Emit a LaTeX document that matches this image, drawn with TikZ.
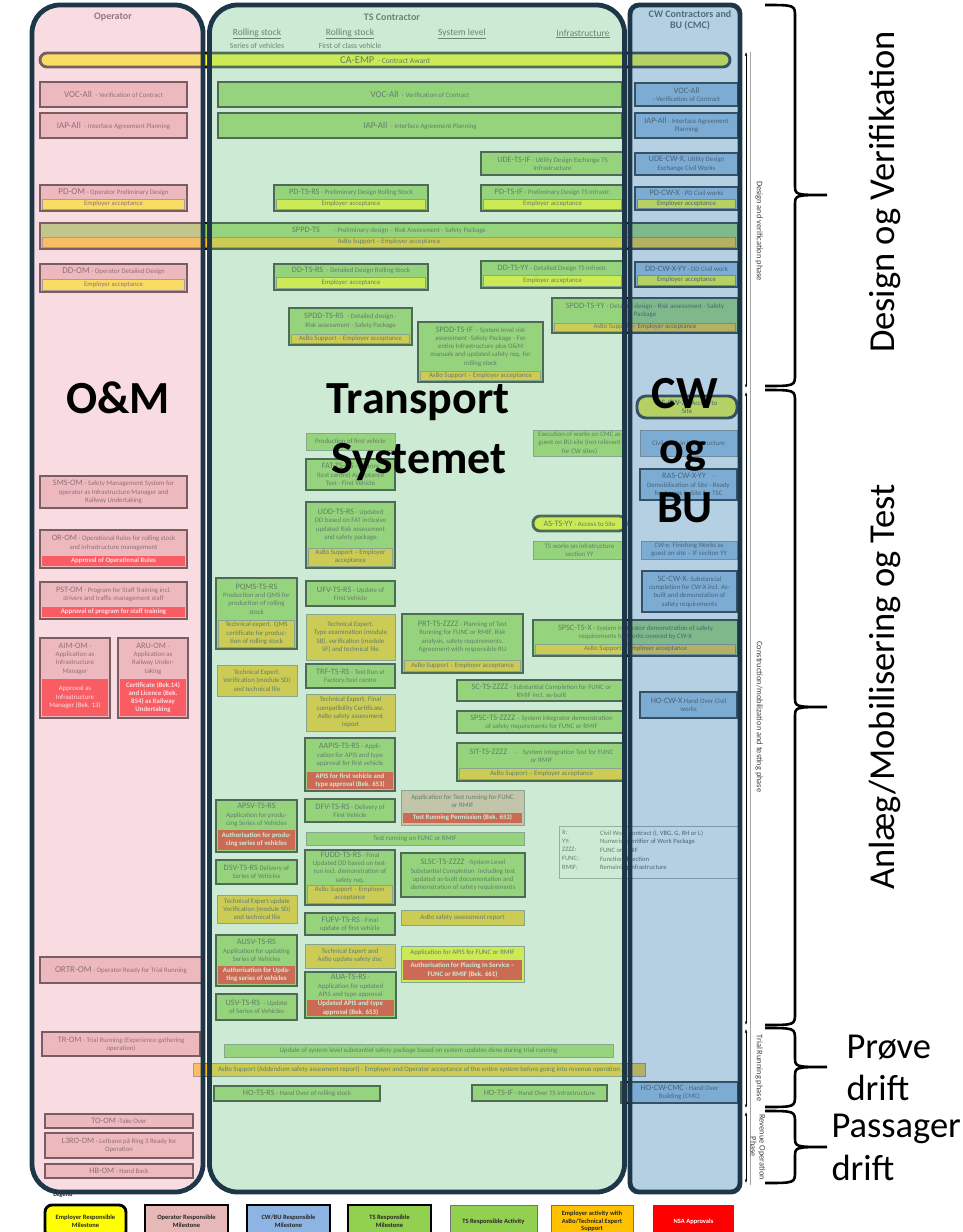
\documentclass[tikz,border=0pt]{standalone}
\usepackage{fontspec}
\setmainfont{Carlito}
\usetikzlibrary{arrows.meta}
\definecolor{empY}{HTML}{FFFF00}
\definecolor{opM}{HTML}{E6B8B7}
\definecolor{cwB}{HTML}{8DB4E2}
\definecolor{tsG}{HTML}{92D050}
\definecolor{empO}{HTML}{FFC000}
\definecolor{nsaR}{HTML}{FF0000}
\definecolor{tanC}{HTML}{EBB4AA}
\definecolor{ovP}{HTML}{F5BBC7}
\definecolor{ovG}{HTML}{9BD7AB}
\definecolor{ovB}{HTML}{6DA3C7}
\definecolor{laneB}{HTML}{1E3748}
\pgfdeclarelayer{bg}\pgfdeclarelayer{ov}\pgfdeclarelayer{top}
\pgfsetlayers{bg,main,ov,top}
\newcommand\fsm{\fontsize{6.8}{8.3}\selectfont}
\newcommand\idA[1]{{\fontsize{9}{9}\selectfont #1}}
\newcommand\idB[1]{{\fontsize{8.3}{8.3}\selectfont #1}}
\newcommand\mybox[8][]{%
  \pgfmathsetmacro\bxw{#6-#4}%
  \pgfmathsetmacro\bxh{#7-#5}%
  \pgfmathsetmacro\bxcx{(#4+#6)/2}%
  \pgfmathsetmacro\bxcy{(#5+#7)/2}%
  \node[#2, minimum width=\bxw pt, minimum height=\bxh pt, #1] (#3) at (\bxcx,\bxcy) {#8};%
}
\newcommand\msbar[9]{%
  \mybox{#1}{#2}{#3}{#4}{#5}{#6}{}%
  \pgfmathsetmacro\mbxa{#3+2.4}\pgfmathsetmacro\mbxb{#5-2.4}\pgfmathsetmacro\mbyb{#6-2}%
  \mybox{#8}{#2b}{\mbxa}{#7}{\mbxb}{\mbyb}{#9}%
  \def\msbarA{#3}\def\msbarB{#4}\def\msbarC{#5}\def\msbarD{#7}\edef\msbarN{#2t}%
  \msbarcont}
\newcommand\msbarcont[1]{\mybox{txt}{\msbarN}{\msbarA}{\msbarB}{\msbarC}{\msbarD}{#1}}
\newcommand\mybrace[3]{%
  \draw[brc] (765,#1) .. controls (795,#1) .. (795,{#1+12}) -- (795,{#2-10}) .. controls (795,#2) .. (827,#2) .. controls (795,#2) .. (795,{#2+10}) -- (795,{#3-12}) .. controls (795,#3) .. (765,#3);}
\tikzset{
  bxbase/.style={rectangle, inner sep=0.5pt, align=center, font=\fsm, text=black!85},
  msO/.style={bxbase, fill=opM, draw=black, line width=2.9pt},
  msT/.style={bxbase, fill=tsG, draw=black, line width=2.9pt},
  msC/.style={bxbase, fill=cwB, draw=black, line width=2.9pt},
  msE/.style={bxbase, fill=empY, draw=black, line width=2.9pt, rounded corners=7pt},
  actT/.style={bxbase, fill=tsG, draw=black!55, line width=0.6pt},
  actC/.style={bxbase, fill=cwB, draw=black!55, line width=0.6pt},
  actE/.style={bxbase, fill=empO, draw=black!55, line width=0.6pt},
  accY/.style={bxbase, fill=empY, draw=black!55, line width=0.6pt},
  nsa/.style={bxbase, fill=nsaR, text=white, font=\fsm\bfseries},
  nsar/.style={bxbase, fill=nsaR, text=white},
  tanb/.style={bxbase, fill=tanC, draw=black!55, line width=0.6pt},
  txt/.style={bxbase},
  conn/.style={draw=black!65, line width=0.75pt},
  phl/.style={draw=black!45, line width=0.7pt},
  brc/.style={draw=black, line width=2.6pt},
  lane/.style={draw=laneB, line width=4.8pt},
  big/.style={font=\fontsize{46}{46}\selectfont\bfseries, text=black, anchor=base},
  side/.style={font=\fontsize{36.5}{36.5}\selectfont, text=black},
  phtxt/.style={font=\fontsize{8.4}{9}\selectfont, text=black!75, align=center},
  hdr/.style={font=\fontsize{10}{11.5}\selectfont\bfseries, text=black!80, align=center},
  hdu/.style={font=\fontsize{9.5}{10}\selectfont, text=black!80},
  hds/.style={font=\fontsize{7.8}{8}\selectfont, text=black!80},
}
\begin{document}
\begin{tikzpicture}[x=1pt,y=-1pt]
\useasboundingbox (0,0) rectangle (963,1232);
\fill[white] (0,0) rectangle (963,1232);
% ---------- coordinates for connectors
\coordinate (xOM) at (113,0);
\coordinate (xOM2) at (121,0);
\coordinate (xCA) at (386,0);
\coordinate (xRS) at (257,0);
\coordinate (xFV) at (350,0);
\coordinate (xTS) at (420,0);
\coordinate (xSY) at (462,0);
\coordinate (xIFd) at (482,0);
\coordinate (xSC) at (542,0);
\coordinate (xIF) at (552,0);
\coordinate (xE) at (580,0);
\coordinate (xR) at (600,0);
\coordinate (xYY) at (606,0);
\coordinate (xCW) at (688,0);
\coordinate (xAR) at (168,0);
\coordinate (xAP) at (411,0);
\coordinate (xPA) at (440,0);
\coordinate (xSI) at (443,0);
\coordinate (xA2) at (330,0);
\coordinate (xA3) at (278,0);
\coordinate (xO1) at (240,0);
\coordinate (xO2) at (270,0);
\coordinate (xO3) at (295,0);
\coordinate (xU) at (325,0);
\coordinate (xHR) at (297,0);
\coordinate (xHI) at (540,0);
\coordinate (xTO) at (178,0);
\coordinate (yA) at (0,74);
\coordinate (yU) at (0,145);
\coordinate (yO1t) at (0,404);
\coordinate (yO2t) at (0,428);
\coordinate (yI) at (0,525);
\coordinate (yP) at (0,537);
\coordinate (yO1) at (0,538);
\coordinate (yO2) at (0,541);
\coordinate (yO3) at (0,549);
\coordinate (yO3b) at (0,575);
\coordinate (yS1) at (0,627);
\coordinate (yC) at (0,670);
\coordinate (yAR) at (0,735);
\coordinate (yQ) at (0,786);
\coordinate (yAP) at (0,795);
\coordinate (yS2) at (0,835);
\coordinate (yB) at (0,1025);
\coordinate (yT) at (0,1107);

% ---------- headers
\node[hdr] (hop) at (113,17) {Operator};
\node[hdr] (hts) at (392,17) {TS Contractor};
\node[hdu] (hrs1) at (257,34) {\underline{Rolling stock}};
\node[hds] (hrs1b) at (257,46) {Series of vehicles};
\node[hdu] (hrs2) at (350,34) {\underline{Rolling stock}};
\node[hds] (hrs2b) at (350,46) {First of class vehicle};
\node[hdu] (hsys) at (462,34) {\underline{System level}};
\node[hdu] (hinf) at (583,34) {\underline{Infrastructure}};
\node[hdr] (hcw) at (690,20) {CW Contractors and\\BU (CMC)};

% ---------- design phase
\mybox{msE}{caemp}{40}{53}{730}{67}{{\fontsize{10.5}{10.5}\selectfont CA-EMP}\enspace{\fontsize{7.6}{8}\selectfont - Contract Award}}
\mybox{msO}{vocom}{40}{82}{187}{107}{\idA{VOC-All}\enspace - Verification of Contract}
\mybox{msT}{vocts}{218}{82}{622}{107}{\idA{VOC-All}\enspace - Verification of Contract}
\mybox{msC}{voccw}{635}{83}{738}{106}{\idB{VOC-All}\\- Verification of Contract}
\mybox{msO}{iapom}{40}{113}{187}{138}{\idA{IAP-All}\enspace - Interface Agreement Planning}
\mybox{msT}{iapts}{218}{113}{622}{138}{\idA{IAP-All}\enspace - Interface Agreement Planning}
\mybox{msC}{iapcw}{635}{113}{738}{138}{\idB{IAP-All} - Interface Agreement\\Planning}
\mybox{msT}{udets}{481}{152}{624}{175}{\idB{UDE-TS-IF} - Utility Design Exchange TS\\Infrastructure}
\mybox{msC}{udecw}{635}{153}{738}{175}{\idB{UDE-CW-X,} Utility Design\\Exchange Civil Works}
\msbar{msO}{pdom}{40}{185}{187}{211}{199}{accY}{Employer acceptance}{\idA{PD-OM} - Operator Preliminary Design}
\msbar{msT}{pdrs}{274}{185}{428}{211}{199}{accY}{Employer acceptance}{\idB{PD-TS-RS} - Preliminary Design Rolling Stock}
\msbar{msT}{pdif}{481}{185}{624}{211}{199}{accY}{Employer acceptance}{\idB{PD-TS-IF} - Preliminary Design TS Infrastr.}
\msbar{msC}{pdcw}{635}{187}{738}{210}{199}{accY}{Employer acceptance}{\idB{PD-CW-X} - PD Civil works}
\msbar{msT}{sppd}{40}{223}{738}{249}{237}{actE}{AsBo Support – Employer acceptance}{\idB{SPPD-TS}\qquad - Preliminary design – Risk Assessment - Safety Package}
\msbar{msO}{ddom}{40}{264}{187}{292}{279}{accY}{Employer acceptance}{\idA{DD-OM} - Operator Detailed Design}
\msbar{msT}{ddrs}{274}{264}{428}{290}{277}{accY}{Employer acceptance}{\idB{DD-TS-RS}\enspace - Detailed Design Rolling Stock}
\msbar{msT}{ddyy}{481}{261}{624}{288}{275}{accY}{Employer acceptance}{\idB{DD-TS-YY} - Detailed Design TS Infrastr.}
\msbar{msC}{ddcw}{635}{262}{738}{287}{275}{accY}{Employer acceptance}{\idB{DD-CW-X-YY} - DD Civil work}
\msbar{msT}{spddyy}{552}{298}{738}{333}{323}{actE}{AsBo Support – Employer acceptance}{\idB{SPDD-TS-YY} - Detailed design - Risk assessment - Safety\\Package}
\msbar{msT}{spddrs}{289}{308}{412}{345}{334}{actE}{AsBo Support – Employer acceptance}{\idB{SPDD-TS-RS}\enspace - Detailed design -\\Risk assessment - Safety Package}
\msbar{msT}{spddif}{418}{322}{543}{382}{371}{actE}{AsBo Support – Employer acceptance}{\idB{SPDD-TS-IF}\enspace - System level risk\\assessment -Safety Package - For\\entire Infrastructure plus O\&M\\manuals and updated safety req. for\\rolling stock}

% ---------- construction: operator
\mybox{msO}{sms}{40}{476}{187}{508}{\idB{SMS-OM} - Safety Management System for\\operator as Infrastructure Manager and\\Railway Undertaking}
\msbar{msO}{orom}{40}{530}{187}{568}{556}{nsa}{Approval of Operational Rules}{\idB{OR-OM} - Operational Rules for rolling stock\\and infrastructure management}
\msbar{msO}{pst}{40}{582}{187}{619}{607}{nsa}{Approval of program for staff training}{\idB{PST-OM} - Program for Staff Training incl.\\drivers and traffic management staff}
\msbar{msO}{aim}{40}{638}{110}{718}{679}{nsar}{Approval as\\Infrastructure\\Manager (Bek. 13)}{\idB{AIM-OM} -\\Application as\\Infrastructure\\Manager}
\msbar{msO}{aru}{118}{638}{188}{718}{679}{nsa}{Certificate (Bek.14)\\and Licence (Bek.\\854) as Railway\\Undertaking}{\idB{ARU-OM} -\\Application as\\Railway Under-\\taking}
\mybox{msO}{ortr}{40}{957}{202}{983}{\idA{ORTR-OM} - Operator Ready for Trial Running}

% ---------- construction: TS first vehicle
\mybox{actT}{prod}{306}{433}{395}{450}{Production of first vehicle}
\mybox{msT}{fat}{306}{459}{395}{490}{\idB{FAT-TS-RS} - Factory\\(test centre) Acceptance\\Test - First Vehicle}
\msbar{msT}{udd}{306}{502}{395}{568}{548}{actE}{AsBo Support – Employer\\acceptance}{\idB{UDD-TS-RS} - Updated\\DD based on FAT inclusive\\updated Risk assessment\\and safety package}
\mybox{msT}{ufv}{306}{581}{395}{606}{\idB{UFV-TS-RS} - Update of\\First Vehicle}
\mybox{actE}{te1}{306}{614}{395}{660}{Technical Expert.\\Type examination (module\\SB), verification (module\\SF) and technical file}
\mybox{msT}{trf}{306}{664}{395}{688}{\idB{TRF-TS-RS} - Test Run at\\Factory/test centre}
\mybox{actE}{te2}{306}{694}{395}{731}{Technical Expert. Final\\compatibility Certificate.\\AsBo safety assessment\\report}
\msbar{msT}{aapis}{305}{738}{395}{791}{772}{nsa}{APIS for first vehicle and\\type approval (Bek. 653)}{\idB{AAPIS-TS-RS} - Appli-\\cation for APIS and type\\approval for first vehicle}
\mybox{msT}{dfv}{305}{799}{395}{822}{\idB{DFV-TS-RS} - Delivery of\\First Vehicle}
\msbar{msT}{fudd}{305}{850}{395}{905}{885}{actE}{AsBo Support – Employer\\acceptance}{\idB{FUDD-TS-RS} - Final\\Updated DD based on test-\\run incl. demonstration of\\safety req.}
\mybox{msT}{fufv}{305}{913}{395}{935}{\idB{FUFV-TS-RS} - Final\\update of first vehicle}
\mybox{actE}{te3}{305}{944}{395}{968}{Technical Expert and\\AsBo update safety doc}
\msbar{msT}{aua}{305}{972}{396}{1018}{1000}{nsa}{Updated APIS and type\\approval (Bek. 653)}{\idB{AUA-TS-RS} -\\Application for updated\\APIS and type approval}

% ---------- construction: TS series
\msbar{msT}{pqms}{216}{578}{297}{649}{620}{actE}{Technical expert. QMS\\certificate for produc-\\tion of rolling stock}{\idB{PQMS-TS-RS}\\Production and QMS for\\production of rolling\\stock}
\mybox{actE}{te4}{217}{665}{297}{696}{Technical Expert.\\Verification (module SD)\\and technical file}
\msbar{msT}{apsv}{216}{800}{297}{852}{830}{nsa}{Authorisation for produ-\\cing series of vehicles}{\idB{APSV-TS-RS}\\Application for produ-\\cing Series of Vehicles}
\mybox{msT}{dsv}{216}{860}{297}{884}{\idB{DSV-TS-RS} Delivery of\\Series of Vehicles}
\mybox{actE}{te5}{217}{895}{297}{923}{Technical Expert update\\Verification (module SD)\\and technical file}
\msbar{msT}{ausv}{216}{935}{297}{986}{966}{nsa}{Authorisation for Upda-\\ting series of vehicles}{\idB{AUSV-TS-RS}\\Application for updating\\Series of Vehicles}
\mybox{msT}{usv}{216}{994}{297}{1020}{\idB{USV-TS-RS}\enspace - Update\\of Series of Vehicles}

% ---------- construction: TS system / infrastructure
\mybox{actT}{exe}{533}{430}{626}{456}{Execution of works on CMC as\\guest on BU-site (not relevant\\for CW sites)}
\mybox{msE}{asts}{533}{516}{626}{531}{\idB{AS-TS-YY} - Access to Site}
\mybox{actT}{tsw}{533}{541}{626}{559}{TS works on infratructure\\section YY}
\msbar{msT}{prt}{402}{614}{523}{673}{660}{actE}{AsBo Support – Employer acceptance}{\idB{PRT-TS-ZZZZ} - Planning of Test\\Running for FUNC or RMIF. Risk\\analysis, safety requirements.\\Agreement with responsible RU}
\msbar{msT}{spscx}{533}{620}{738}{656}{644}{actE}{AsBo Support – Employer acceptance}{\idB{SPSC-TS-X} - System integrator demonstration of safety\\requirements for works covered by CW-X}
\mybox{msT}{scts}{457}{680}{626}{701}{\idB{SC-TS-ZZZZ} - Substantial Completion for FUNC or\\RMIF incl. as-built}
\mybox{msT}{spsc}{457}{711}{626}{733}{\idB{SPSC-TS-ZZZZ} – System integrator demonstration\\of safety requirements for FUNC or RMIF}
\msbar{msT}{sit}{457}{743}{626}{781}{768}{actE}{AsBo Support – Employer acceptance}{\idB{SIT-TS-ZZZZ}\quad -\quad System Integration Test for FUNC\\or RMIF}
\msbar{tanb}{aptr}{401}{790}{524}{825}{813}{nsa}{Test Running Permission (Bek. 653)}{Application for Test running for FUNC\\or RMIF}
\mybox{actT}{trun}{306}{832}{524}{845}{Test running on FUNC or RMIF}
\mybox{msT}{slsc}{401}{853}{525}{897}{\idB{SLSC-TS-ZZZZ}\enspace -System Level\\Substantial Completion\enspace including test\\updated as-built documentation and\\demonstration of safety requirements}
\mybox{actE}{asbor}{401}{910}{524}{925}{AsBo safety assessment report}
\msbar{accY}{apapis}{401}{946}{524}{982}{960}{nsa}{Authorisation for Placing In Service –\\FUNC or RMIF (Bek. 661)}{Application for APIS for FUNC or RMIF}
\node[draw=black!45, line width=0.6pt, minimum width=181pt, minimum height=52pt, anchor=north west] (abbr) at (559,826) {};
\node[anchor=north west, align=left, font=\fontsize{6.6}{8.7}\selectfont, text=black!85, inner sep=0pt] (abbrk) at (562,830) {X:\\YY:\\ZZZZ:\\FUNC:\\RMIF:};
\node[anchor=north west, align=left, font=\fontsize{6.6}{8.7}\selectfont, text=black!85, inner sep=0pt] (abbrv) at (600,830) {Civil Work Contract (I, VBG, G, RH or L)\\Numeric identifier of Work Package\\FUNC or RMIF\\Functional section\\Remaining infrastructure};

% ---------- construction: CW
\mybox[rounded corners=9pt]{msE}{ascw}{637}{396}{737}{418}{\idB{AS-CW-X} - Access to\\Site}
\mybox{actC}{cwork}{640}{430}{737}{456}{Civil work in Infrastructure}
\mybox{msC}{ras}{640}{469}{737}{500}{\idB{RAS-CW-X-YY}\quad -\\Demobilisation of Site - Ready\\for Access to Site for TSC}
\mybox{actC}{cwfin}{641}{541}{737}{559}{CW-x: Finishing Works as\\guest on site – IF section YY}
\mybox{msC}{sccw}{642}{571}{737}{612}{\idB{SC-CW-X}- Substancial\\completion for CW-X incl. As-\\built and demonstation of\\safety requirements}
\mybox{msC}{hocwx}{640}{692}{737}{718}{\idB{HO-CW-X} Hand Over Civil\\works}

% ---------- trial running / revenue
\mybox{msO}{trom}{42}{1032}{200}{1056}{\idB{TR-OM} - Trial Running (Experience gathering\\operation)}
\mybox{actT}{upd}{224}{1044}{613}{1057}{Update of system level substantiel safety package based on system updates done during trial running}
\mybox{actE}{asbot}{193}{1063}{645}{1076}{AsBo Support (Addendum safety assesment report) - Employer and Operator acceptance of the entire system before going into revenue operation}
\mybox{msT}{hotsrs}{214}{1086}{380}{1101}{\idB{HO-TS-RS} - Hand Over of rolling stock}
\mybox{msT}{hotsif}{472}{1085}{607}{1101}{\idB{HO-TS-IF} - Hand Over TS infrastructure}
\mybox{msC}{hocw}{621}{1082}{738}{1103}{\idB{HO-CW-CMC} - Hand Over\\Building (CMC)}
\mybox{msO}{toom}{45}{1114}{193}{1128}{\idB{TO-OM} -Take Over}
\mybox{msO}{l3ro}{45}{1133}{193}{1158}{\idB{L3RO-OM} - Letbane på Ring 3 Ready for\\Operation}
\mybox{msO}{hbom}{45}{1164}{193}{1178}{\idB{HB-OM} - Hand Back}

% ---------- legend
\node[font=\fontsize{6.5}{7}\selectfont\bfseries, text=black!85] (legt) at (63,1195) {Legend};
\mybox[font=\fontsize{6.5}{7.6}\selectfont\bfseries]{msE}{lg1}{45}{1205}{126}{1238}{Employer Responsible\\Milestone}
\mybox[font=\fontsize{6.5}{7.6}\selectfont\bfseries]{msO}{lg2}{145}{1205}{228}{1238}{Operator Responsible\\Milestone}
\mybox[font=\fontsize{6.5}{7.6}\selectfont\bfseries]{msC}{lg3}{247}{1205}{330}{1238}{CW/BU Responsible\\Milestone}
\mybox[font=\fontsize{6.5}{7.6}\selectfont\bfseries]{msT}{lg4}{348}{1205}{431}{1238}{TS Responsible\\Milestone}
\mybox[font=\fontsize{6.5}{7.6}\selectfont\bfseries]{actT}{lg5}{450}{1205}{537}{1238}{TS Responsible Activity}
\mybox[font=\fontsize{6.5}{7.6}\selectfont\bfseries]{actE}{lg6}{551}{1205}{633}{1238}{Employer activity with\\AsBo/Technical Expert\\Support}
\mybox[font=\fontsize{6.5}{7.6}\selectfont\bfseries]{nsa}{lg7}{653}{1205}{734}{1238}{NSA Approvals}

% ---------- connectors (behind boxes)
\begin{pgfonlayer}{bg}
\draw[phl] (15,390) -- (765,390);
\draw[phl] (15,1027) -- (765,1027);
\draw[phl] (15,1110) -- (765,1110);
\draw[phl] (15,1185) -- (765,1185);
\draw[conn] (caemp.south -| xCA) -- (xCA |- yA);
\draw[conn] (vocom.north -| xOM) -- (xOM |- yA) -- (xCW |- yA) -- (voccw.north -| xCW);
\draw[conn] (xTS |- yA) -- (vocts.north -| xTS);
\foreach \p/\q in {vocom/iapom, iapom/pdom, pdom/sppd, sppd/ddom, ddom/sms, sms/orom, orom/pst}
  \draw[conn] (\p.south -| xOM) -- (\q.north -| xOM);
\draw[conn] (pst.south -| xOM) -- (xOM |- yS1);
\draw[conn] (aim.north) |- (xOM |- yS1) -| (aru.north);
\draw[conn] (aim.south) |- (aru.south |- yS2) -- (aru.south);
\draw[conn] (xOM2 |- yS2) -- (ortr.north -| xOM2);
\draw[conn] (ortr.south -| xOM2) -- (trom.north -| xOM2);
\draw[conn] (xOM2 |- yB) -- (xSY |- yB);
\draw[conn] (trom.south -| xOM2) |- (asbot.west);
\draw[conn] (aru.south -| xAR) -- (xAR |- yAR) -- (xAP |- yAR) -- (aptr.north -| xAP);
% TS design
\draw[conn] (vocts.south -| xTS) -- (iapts.north -| xTS);
\draw[conn] (iapts.south -| xTS) -- (xTS |- yU);
\draw[conn] (pdrs.north -| xFV) -- (xFV |- yU) -- (xIF |- yU) -- (udets.north -| xIF);
\draw[conn] (udets.south -| xIF) -- (pdif.north -| xIF);
\draw[conn] (pdrs.south -| xFV) -- (sppd.north -| xFV);
\draw[conn] (pdif.south -| xIF) -- (sppd.north -| xIF);
\draw[conn] (sppd.south -| xFV) -- (ddrs.north -| xFV);
\draw[conn] (sppd.south -| xIF) -- (ddyy.north -| xIF);
\draw[conn] (ddrs.south -| xFV) -- (spddrs.north -| xFV);
\draw[conn] (ddyy.south -| xYY) -- (spddyy.north -| xYY);
\draw[conn] (ddyy.south -| xIFd) -- (spddif.north -| xIFd);
% CW chain
\foreach \p/\q in {voccw/iapcw, iapcw/udecw, udecw/pdcw, pdcw/sppd, sppd/ddcw, ddcw/spddyy, spddyy/ascw, ascw/cwork, cwork/ras, ras/cwfin, cwfin/sccw, sccw/spscx, spscx/hocwx}
  \draw[conn] (\p.south -| xCW) -- (\q.north -| xCW);
% first vehicle chain
\foreach \p/\q in {spddrs/prod, prod/fat, fat/udd, udd/ufv, ufv/te1, te1/trf, trf/te2, te2/aapis, aapis/dfv, dfv/trun, trun/fudd, fudd/fufv, fufv/te3, te3/aua}
  \draw[conn] (\p.south -| xFV) -- (\q.north -| xFV);
\draw[conn] (aua.south -| xFV) -- (xFV |- yB);
% series chain
\foreach \p/\q in {pqms/te4, te4/apsv, apsv/dsv, dsv/te5, te5/ausv, ausv/usv}
  \draw[conn] (\p.south -| xRS) -- (\q.north -| xRS);
\draw[conn] (usv.south -| xRS) -- (xRS |- yB);
\draw[conn] (aapis.south -| xA2) -- (xA2 |- yAP) -- (xA3 |- yAP) -- (apsv.north -| xA3);
% operator rules links
\draw[conn] (orom.east |- yO1) -- (xO1 |- yO1) -- (xO1 |- yO1t) -- (xSI |- yO1t) -- (spddif.south -| xSI);
\draw[conn] (orom.east |- yO2) -- (xO2 |- yO2) -- (xO2 |- yO2t) -| (prod.north);
\draw[conn] (orom.east |- yO3) -- (xO3 |- yO3) -- (xO3 |- yO3b) -- (xU |- yO3b) -- (udd.south -| xU);
\draw[conn] (spddif.south -| xSI) -- (xSI |- yI) -- (udd.east |- yI);
% system / infrastructure
\draw[conn] (spddyy.south -| xE) -- (exe.north -| xE);
\draw[conn] (exe.south -| xE) -- (asts.north -| xE);
\draw[conn] (ras.west) -| (asts.north -| xR);
\draw[conn] (asts.south -| xE) -- (tsw.north -| xE);
\draw[conn] (tsw.south -| xE) -- (spscx.north -| xE);
\draw[conn] (spddif.south -| xIFd) -- (xIFd |- yP) -- (xSY |- yP) -- (prt.north -| xSY);
\draw[conn] (prt.south -| xPA) -- (aptr.north -| xPA);
\draw[conn] (spscx.south -| xE) -- (xE |- yC) -- (xSC |- yC) -- (scts.north -| xSC);
\draw[conn] (scts.south -| xSC) -- (spsc.north -| xSC);
\draw[conn] (spsc.south -| xSC) -- (sit.north -| xSC);
\draw[conn] (sit.south -| xSC) -- (xSC |- yQ) -- (xSY |- yQ) -- (aptr.north -| xSY);
\foreach \p/\q in {aptr/trun, trun/slsc, slsc/asbor, asbor/apapis}
  \draw[conn] (\p.south -| xSY) -- (\q.north -| xSY);
\draw[conn] (apapis.south -| xSY) -- (xSY |- yB);
\draw[conn] (aapis.east) -- ++(4,0) |- (aptr.west);
% trial running
\draw[conn] (xTS |- yB) -- (upd.north -| xTS);
\draw[conn] (upd.south -| xTS) -- (asbot.north -| xTS);
\draw[conn] (asbot.south -| xHR) -- (hotsrs.north -| xHR);
\draw[conn] (asbot.south -| xHI) -- (hotsif.north -| xHI);
\draw[conn] (hotsif.east) -- (hocw.west);
\draw[conn] (hotsrs.south -| xHR) -- (xHR |- yT);
\draw[conn] (hotsif.south -| xHI) -- (xHI |- yT) -- (xTO |- yT) -- (toom.north -| xTO);
\draw[conn] (toom.south) -- (l3ro.north);
\draw[conn] (l3ro.south) -- (hbom.north);
\end{pgfonlayer}

% ---------- translucent lanes
\begin{pgfonlayer}{ov}
\fill[ovP, fill opacity=0.5, rounded corners=28pt] (32,5) rectangle (203,1192);
\fill[ovG, fill opacity=0.5, rounded corners=28pt] (209.5,5) rectangle (624.5,1192);
\fill[ovB, fill opacity=0.5, rounded corners=9pt] (630,5) rectangle (740,1192);
\end{pgfonlayer}
\begin{pgfonlayer}{top}
\draw[lane, rounded corners=28pt] (32,5) rectangle (203,1192);
\draw[lane, rounded corners=28pt] (209.5,5) rectangle (624.5,1192);
\draw[lane, rounded corners=9pt] (630,5) rectangle (740,1192);
\node[big] (tOM) at (118,413) {O\&M};
\node[big] (tTr) at (418,413) {Transport};
\node[big] (tSy) at (419,473) {Systemet};
\node[big] (tCW) at (685,408) {CW};
\node[big] (tog) at (683,463) {og};
\node[big] (tBU) at (685,522) {BU};
\end{pgfonlayer}

% ---------- phase markers and braces
\draw[black!35, line width=0.5pt] (750,52) -- (750,1185);
\draw[{Latex[length=3.5pt,width=2.5pt]}-{Latex[length=3.5pt,width=2.5pt]}, line width=0.5pt] (746,52) -- (746,388);
\draw[{Latex[length=3.5pt,width=2.5pt]}-{Latex[length=3.5pt,width=2.5pt]}, line width=0.5pt] (746,392) -- (746,1025);
\draw[{Latex[length=3.5pt,width=2.5pt]}-{Latex[length=3.5pt,width=2.5pt]}, line width=0.5pt] (746,1029) -- (746,1108);
\draw[{Latex[length=3.5pt,width=2.5pt]}-{Latex[length=3.5pt,width=2.5pt]}, line width=0.5pt] (746,1112) -- (746,1183);
\node[phtxt, rotate=-90] (ph1) at (759,231) {Design and verification phase};
\node[phtxt, rotate=-90] (ph2) at (759,717) {Construction/mobilization and testing phase};
\node[phtxt, rotate=-90] (ph3) at (759,1068) {Trial Running phase};
\node[phtxt, rotate=-90] (ph4) at (758,1147) {Revenue Operation\\Phase};
\mybrace{5}{195}{386}
\mybrace{390}{707}{1025}
\mybrace{1028}{1067}{1107}
\mybrace{1111}{1147}{1183}
\node[side, rotate=90] (sDV) at (885,192) {Design og Verifikation};
\node[side, rotate=90] (sAM) at (885,687) {Anlæg/Mobilisering og Test};
\node[side, anchor=base west] (sP1) at (843,1058) {Prøve};
\node[side, anchor=base west] (sP2) at (843,1100) {drift};
\node[side, anchor=base west] (sP3) at (828,1137) {Passager};
\node[side, anchor=base west] (sP4) at (828,1180) {drift};
\end{tikzpicture}
\end{document}
